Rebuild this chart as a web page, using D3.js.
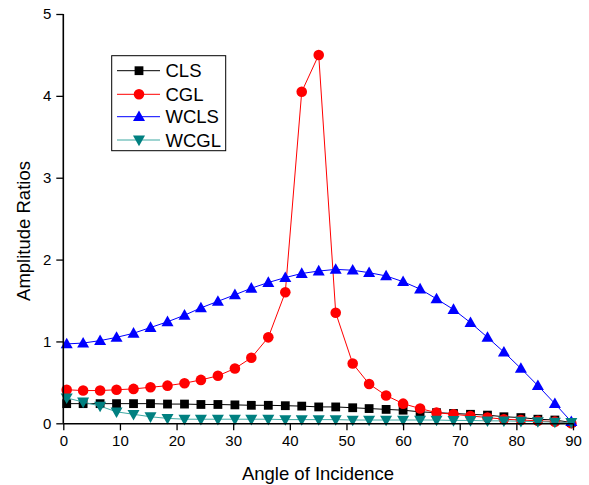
<!DOCTYPE html>
<html>
<head>
<meta charset="utf-8">
<script src="https://cdn.jsdelivr.net/npm/d3@7/dist/d3.min.js"></script>
<style>
  html, body { margin: 0; padding: 0; background: #fff; }
  svg { display: block; font-family: "Liberation Sans", Arial, sans-serif; }
</style>
</head>
<body>
<svg id="chart" width="589" height="485"></svg>
<script>
// ---- data ----
const angles = [0.6, 3.5, 6.5, 9.4, 12.4, 15.4, 18.4, 21.4, 24.3, 27.3, 30.3, 33.2, 36.2, 39.2, 42.1, 45.1,
                48.1, 51.1, 54.0, 57.0, 60.0, 63.0, 65.9, 68.9, 71.9, 74.9, 77.8, 80.8, 83.8, 86.8, 89.7];
const CLS  = [0.24, 0.24, 0.24, 0.24, 0.24, 0.24, 0.235, 0.235, 0.23, 0.23, 0.225, 0.22, 0.22, 0.215, 0.21, 0.20,
              0.20, 0.19, 0.18, 0.17, 0.16, 0.14, 0.13, 0.12, 0.11, 0.10, 0.08, 0.07, 0.05, 0.04, 0.01];
const CGL  = [0.41, 0.40, 0.40, 0.41, 0.42, 0.44, 0.46, 0.49, 0.53, 0.58, 0.67, 0.80, 1.05, 1.60, 4.05, 4.50,
              1.35, 0.73, 0.48, 0.34, 0.24, 0.18, 0.13, 0.11, 0.09, 0.07, 0.05, 0.04, 0.03, 0.02, 0.0];
const WCLS = [0.97, 0.98, 1.01, 1.05, 1.10, 1.17, 1.24, 1.32, 1.41, 1.49, 1.57, 1.65, 1.72, 1.78, 1.83, 1.86,
              1.88, 1.87, 1.84, 1.80, 1.73, 1.64, 1.52, 1.39, 1.23, 1.05, 0.87, 0.67, 0.46, 0.24, 0.02];
const WCGL = [0.31, 0.26, 0.21, 0.14, 0.11, 0.08, 0.06, 0.05, 0.05, 0.05, 0.05, 0.05, 0.05, 0.045, 0.045, 0.045,
              0.045, 0.04, 0.04, 0.04, 0.04, 0.04, 0.04, 0.035, 0.035, 0.03, 0.03, 0.025, 0.02, 0.015, 0.01];
const xTicks = [0, 10, 20, 30, 40, 50, 60, 70, 80, 90];
const yTicks = [0, 1, 2, 3, 4, 5];
const seriesNames = ["CLS", "CGL", "WCLS", "WCGL"];

// ---- styles ----
const styles = {
  CLS:  { line: "#000000", fill: "#000000", shape: "square" },
  CGL:  { line: "#ff0000", fill: "#ff0000", shape: "circle" },
  WCLS: { line: "#0000ff", fill: "#0000ff", shape: "up" },
  WCGL: { line: "#3fa9a3", fill: "#008080", shape: "down" }
};
const seriesData = { CLS, CGL, WCLS, WCGL };

const svg = d3.select("#chart");
const x = d3.scaleLinear().domain([0, 90]).range([63.3, 573]);
const y = d3.scaleLinear().domain([0, 5]).range([423.3, 14]);

function markerPath(shape) {
  if (shape === "square") return "M-4.4,-4.4H4.4V4.4H-4.4Z";
  if (shape === "circle") return "M5.3,0A5.3,5.3 0 1,1 -5.3,0A5.3,5.3 0 1,1 5.3,0Z";
  if (shape === "up") return "M0,-6.2L6,4.4L-6,4.4Z";
  return "M0,6.2L6,-4.4L-6,-4.4Z";
}

// ---- series ----
const line = d3.line().x(d => x(d[0])).y(d => y(d[1]));
seriesNames.forEach(name => {
  const st = styles[name];
  const pts = angles.map((a, i) => [a, seriesData[name][i]]);
  const g = svg.append("g");
  g.append("path").attr("d", line(pts)).attr("fill", "none")
    .attr("stroke", st.line).attr("stroke-width", 1);
  g.selectAll("path.m").data(pts).enter().append("path").attr("class", "m")
    .attr("transform", d => `translate(${x(d[0])},${y(d[1])})`)
    .attr("d", markerPath(st.shape)).attr("fill", st.fill);
});

// ---- axes ----
const xAxis = d3.axisBottom(x).tickValues(xTicks).tickSize(7).tickPadding(5).tickFormat(d3.format("d"));
const yAxis = d3.axisLeft(y).tickValues(yTicks).tickSize(7).tickPadding(5).tickFormat(d3.format("d"));
const gx = svg.append("g").attr("transform", "translate(0,423.3)").call(xAxis);
const gy = svg.append("g").attr("transform", "translate(63.3,0)").call(yAxis);
[gx, gy].forEach(g => {
  g.select(".domain").attr("stroke", "#000").attr("stroke-width", 1.6);
  g.selectAll(".tick line").attr("stroke", "#000").attr("stroke-width", 1.3);
  g.selectAll(".tick text").attr("font-size", 15).attr("fill", "#000")
    .attr("font-family", "'Liberation Sans', Arial, sans-serif");
});
gx.select(".domain").attr("d", "M63.3,0.5H573");
gy.select(".domain").attr("d", "M0,423.3V14");

// ---- axis titles ----
svg.append("text").attr("x", 318).attr("y", 480).attr("text-anchor", "middle")
  .attr("font-size", 18.5).attr("fill", "#000").text("Angle of Incidence");
svg.append("text").attr("transform", "translate(30,231) rotate(-90)").attr("text-anchor", "middle")
  .attr("font-size", 18.5).attr("fill", "#000").text("Amplitude Ratios");

// ---- legend ----
const lg = svg.append("g");
lg.append("rect").attr("x", 111.7).attr("y", 55.7).attr("width", 114).attr("height", 95)
  .attr("fill", "#fff").attr("stroke", "#000").attr("stroke-width", 1);
const legY = [70.7, 94.3, 116.7, 140];
seriesNames.forEach((name, i) => {
  const st = styles[name];
  lg.append("line").attr("x1", 117).attr("x2", 160).attr("y1", legY[i]).attr("y2", legY[i])
    .attr("stroke", st.line).attr("stroke-width", 1);
  lg.append("path").attr("transform", `translate(139,${legY[i]})`)
    .attr("d", markerPath(st.shape)).attr("fill", st.fill);
  lg.append("text").attr("x", 165.5).attr("y", legY[i] + 6.6).attr("font-size", 18.5)
    .attr("fill", "#000").text(name);
});
</script>
</body>
</html>
